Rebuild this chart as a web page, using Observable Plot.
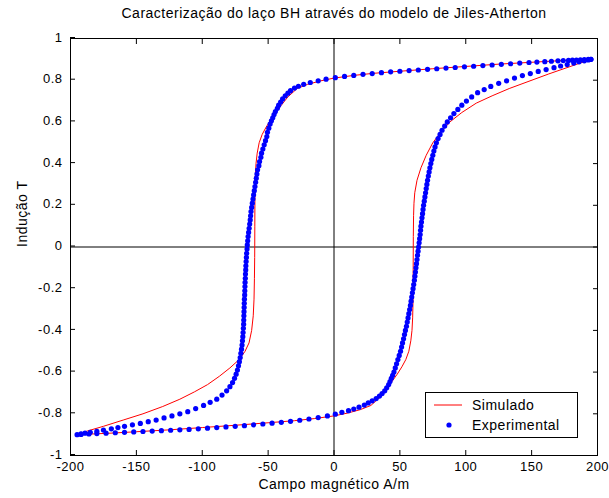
<!DOCTYPE html>
<html><head><meta charset="utf-8">
<script src="https://cdn.jsdelivr.net/npm/d3@7"></script>
<script src="https://cdn.jsdelivr.net/npm/@observablehq/plot@0.6"></script>
<style>
body{margin:0;background:#fff;}
#wrap{position:relative;width:609px;height:498px;}
#legend{position:absolute;left:425px;top:392px;width:151px;height:44px;border:1px solid #000;background:#fff;}
#legend text{font:14px Arial,"Liberation Sans",sans-serif;letter-spacing:0.5px;fill:#000;}
</style></head><body><div id="wrap"></div>
<script>
const title = "Caracterização do laço BH através do modelo de Jiles-Atherton";
const xLabel = "Campo magnético A/m";
const yLabel = "Indução T";
const seriesNames = ["Simulado", "Experimental"];
const xTicks = [-200,-150,-100,-50,0,50,100,150,200];
const yTicks = [-1,-0.8,-0.6,-0.4,-0.2,0,0.2,0.4,0.6,0.8,1];

// Simulado: descending branch (H decreasing)
const simDesc = [[195,0.90],[170,0.893],[150,0.886],[125,0.877],[100,0.866],[75,0.855],[50,0.843],[30,0.833],[15,0.823],[0,0.81],[-10,0.797],[-20,0.78],[-28,0.76],[-35,0.72],[-40,0.68],[-44,0.645],[-48,0.61],[-51.5,0.575],[-54.5,0.54],[-56.8,0.5],[-58.3,0.45],[-59.2,0.4],[-59.7,0.34],[-60,0.25],[-60.1,0.1],[-60.2,-0.05],[-60.4,-0.15],[-60.7,-0.25],[-61.3,-0.33],[-62.5,-0.4],[-64.5,-0.46],[-67.5,-0.5],[-72,-0.54],[-79,-0.58],[-87,-0.62],[-96,-0.66],[-106,-0.695],[-117,-0.73],[-130,-0.765],[-145,-0.8],[-160,-0.83],[-175,-0.86],[-187,-0.882],[-195,-0.90]];
// Simulado: ascending branch (H increasing)
const simAsc = [[-195,-0.90],[-170,-0.893],[-150,-0.886],[-125,-0.877],[-100,-0.866],[-75,-0.855],[-50,-0.843],[-30,-0.833],[-15,-0.823],[0,-0.81],[10,-0.797],[20,-0.78],[28,-0.76],[35,-0.72],[40,-0.68],[44,-0.645],[48,-0.61],[51.5,-0.575],[54.5,-0.54],[56.8,-0.5],[58.3,-0.45],[59.2,-0.4],[59.7,-0.34],[60,-0.25],[60.1,-0.1],[60.2,0.05],[60.4,0.15],[60.7,0.21],[61.3,0.26],[63,0.32],[66,0.38],[70,0.44],[75,0.5],[81,0.55],[88,0.6],[97,0.645],[108,0.69],[120,0.725],[133,0.76],[148,0.795],[163,0.83],[179,0.865],[195,0.90]];

// Experimental: descending branch
const expDesc = [[195,0.90],[193,0.90],[190,0.899],[187,0.898],[184,0.897],[181,0.896],[178,0.895],[174,0.894],[170,0.893],[165,0.891],[160,0.889],[154,0.887],[148,0.885],[141,0.882],[134,0.879],[127,0.876],[120,0.873],[113,0.870],[106,0.867],[99,0.864],[92,0.861],[85,0.858],[78,0.855],[71,0.852],[64,0.849],[57,0.846],[50,0.843],[43,0.84],[36,0.836],[29,0.832],[22,0.828],[15,0.823],[8,0.818],[1,0.812],[-6,0.805],[-12,0.797],[-18,0.789],[-23,0.78],[-27,0.771],[-30,0.762],[-33,0.75],[-35,0.738],[-37,0.725],[-39,0.71],[-40.5,0.695],[-42,0.68],[-43,0.665],[-44.5,0.65],[-45.5,0.635],[-46.5,0.62],[-47.5,0.605],[-48.5,0.59],[-49.5,0.57],[-50.5,0.55],[-51,0.53],[-52,0.51],[-53,0.49],[-54,0.47],[-55,0.45],[-55.5,0.43],[-56.5,0.41],[-57,0.39],[-58,0.37],[-58.5,0.35],[-59,0.33],[-59.5,0.31],[-60,0.29],[-60.5,0.27],[-61,0.25],[-61.5,0.23],[-62,0.21],[-62.5,0.19],[-63,0.17],[-63.3,0.15],[-63.6,0.13],[-64,0.11],[-64.4,0.09],[-64.8,0.07],[-65.2,0.05],[-65.5,0.03],[-65.8,0.01],[-66,-0.01],[-66.3,-0.03],[-66.5,-0.05],[-66.7,-0.07],[-66.9,-0.09],[-67,-0.11],[-67.2,-0.13],[-67.3,-0.15],[-67.5,-0.17],[-67.6,-0.19],[-67.7,-0.21],[-67.8,-0.23],[-68,-0.25],[-68.1,-0.27],[-68.2,-0.29],[-68.3,-0.31],[-68.4,-0.33],[-68.5,-0.35],[-68.6,-0.37],[-68.8,-0.39],[-69,-0.41],[-69.2,-0.43],[-69.5,-0.45],[-69.8,-0.47],[-70.2,-0.49],[-70.7,-0.51],[-71.2,-0.53],[-71.8,-0.55],[-72.5,-0.57],[-73.3,-0.59],[-74.3,-0.61],[-75.5,-0.63],[-77,-0.65],[-79,-0.67],[-81.5,-0.69],[-85,-0.71],[-89,-0.73],[-94,-0.745],[-99,-0.76],[-105,-0.775],[-111,-0.79],[-117,-0.80],[-123,-0.81],[-129,-0.82],[-135,-0.83],[-141,-0.838],[-147,-0.846],[-153,-0.853],[-159,-0.86],[-164,-0.866],[-169,-0.872],[-175,-0.878],[-180,-0.884],[-185,-0.889],[-189,-0.893],[-192,-0.896],[-195,-0.90]];
// Experimental: ascending branch
const expAsc = [[-192,-0.899],[-186,-0.897],[-180,-0.895],[-173,-0.893],[-166,-0.891],[-159,-0.889],[-152,-0.887],[-145,-0.885],[-138,-0.883],[-131,-0.881],[-124,-0.879],[-117,-0.877],[-110,-0.875],[-103,-0.872],[-96,-0.869],[-89,-0.866],[-82,-0.863],[-75,-0.86],[-68,-0.857],[-61,-0.853],[-54,-0.849],[-47,-0.845],[-40,-0.841],[-33,-0.836],[-26,-0.831],[-19,-0.825],[-12,-0.818],[-5,-0.81],[1,-0.802],[6,-0.793],[11,-0.785],[15,-0.777],[19,-0.768],[23,-0.758],[26,-0.748],[29,-0.738],[32,-0.727],[34.5,-0.715],[36.5,-0.703],[38.5,-0.69],[40,-0.675],[41.5,-0.66],[42.5,-0.645],[43.5,-0.63],[44.5,-0.615],[45.5,-0.6],[46.5,-0.58],[47.5,-0.56],[48.5,-0.54],[49.5,-0.52],[50.5,-0.5],[51.3,-0.48],[52,-0.46],[52.8,-0.44],[53.5,-0.42],[54.2,-0.4],[55,-0.38],[55.6,-0.36],[56.2,-0.34],[56.8,-0.32],[57.4,-0.3],[58,-0.28],[58.5,-0.26],[59,-0.24],[59.5,-0.22],[60,-0.2],[60.5,-0.18],[61,-0.16],[61.4,-0.14],[61.8,-0.12],[62.2,-0.1],[62.6,-0.08],[63,-0.06],[63.4,-0.04],[63.8,-0.02],[64.2,0],[64.6,0.02],[65,0.04],[65.4,0.06],[65.7,0.08],[66,0.1],[66.4,0.12],[66.8,0.14],[67.2,0.16],[67.6,0.18],[68,0.2],[68.5,0.22],[69,0.24],[69.5,0.26],[70,0.28],[70.5,0.3],[71,0.32],[71.6,0.34],[72.2,0.36],[72.8,0.38],[73.5,0.4],[74.2,0.42],[75,0.44],[75.8,0.46],[76.7,0.48],[77.7,0.5],[79,0.52],[80.5,0.54],[82,0.56],[84,0.58],[86,0.6],[88.5,0.62],[91,0.64],[94,0.66],[97,0.68],[100.5,0.7],[104.5,0.72],[109,0.74],[114,0.755],[119,0.77],[125,0.785],[131,0.797],[137,0.81],[143,0.822],[149,0.832],[155,0.842],[161,0.851],[167,0.86],[172,0.868],[177,0.875],[182,0.882],[186,0.888],[190,0.893],[193,0.897],[195,0.90]];

const fmt = d => String(Math.round(d * 10) / 10);
const FONT = "Arial, 'Liberation Sans', sans-serif";
const XY = {x: d => d[0], y: d => d[1]};

const chart = Plot.plot({
  width: 609, height: 498,
  marginTop: 38, marginBottom: 43, marginLeft: 70, marginRight: 12,
  style: {fontFamily: FONT, fontSize: "13px", color: "#000", background: "#fff", overflow: "visible", letterSpacing: "0.5px"},
  x: {domain: [-200, 200]},
  y: {domain: [-1, 1]},
  marks: [
    Plot.ruleX([0], {stroke: "#000"}),
    Plot.ruleY([0], {stroke: "#000"}),
    Plot.line(simDesc, {...XY, stroke: "#ff0000", strokeWidth: 1}),
    Plot.line(simAsc, {...XY, stroke: "#ff0000", strokeWidth: 1}),
    Plot.dot(expDesc, {...XY, r: 2.6, fill: "#0000ff", stroke: null}),
    Plot.dot(expAsc, {...XY, r: 2.6, fill: "#0000ff", stroke: null}),
    Plot.frame({stroke: "#000"}),
    Plot.axisX(xTicks, {anchor: "bottom", tickSize: -5, tickPadding: 11, tickFormat: fmt, label: null, fontSize: 13}),
    Plot.axisX(xTicks, {anchor: "top", tickSize: -5, tickFormat: () => "", label: null}),
    Plot.axisY(yTicks, {anchor: "left", tickSize: -5, tickPadding: 13, tickFormat: fmt, label: null, fontSize: 13, dy: -1}),
    Plot.axisY(yTicks, {anchor: "right", tickSize: -5, tickFormat: () => "", label: null}),
    Plot.text([title], {frameAnchor: "top", dy: -25, fontSize: 14, lineAnchor: "middle"}),
    Plot.text([xLabel], {frameAnchor: "bottom", dy: 29, fontSize: 14, lineAnchor: "middle"}),
    Plot.text([yLabel], {frameAnchor: "left", dx: -48, rotate: -90, fontSize: 14, lineAnchor: "middle"})
  ]
});
const wrap = document.getElementById("wrap");
wrap.appendChild(chart);

const legend = document.createElement("div");
legend.id = "legend";
legend.innerHTML = `<svg width="151" height="44">
  <line x1="8" y1="12" x2="36" y2="12" stroke="#ff0000" stroke-width="1"/>
  <text x="46" y="17">${seriesNames[0]}</text>
  <circle cx="23" cy="32" r="2.6" fill="#0000ff"/>
  <text x="46" y="37">${seriesNames[1]}</text>
</svg>`;
wrap.appendChild(legend);
</script></body></html>
